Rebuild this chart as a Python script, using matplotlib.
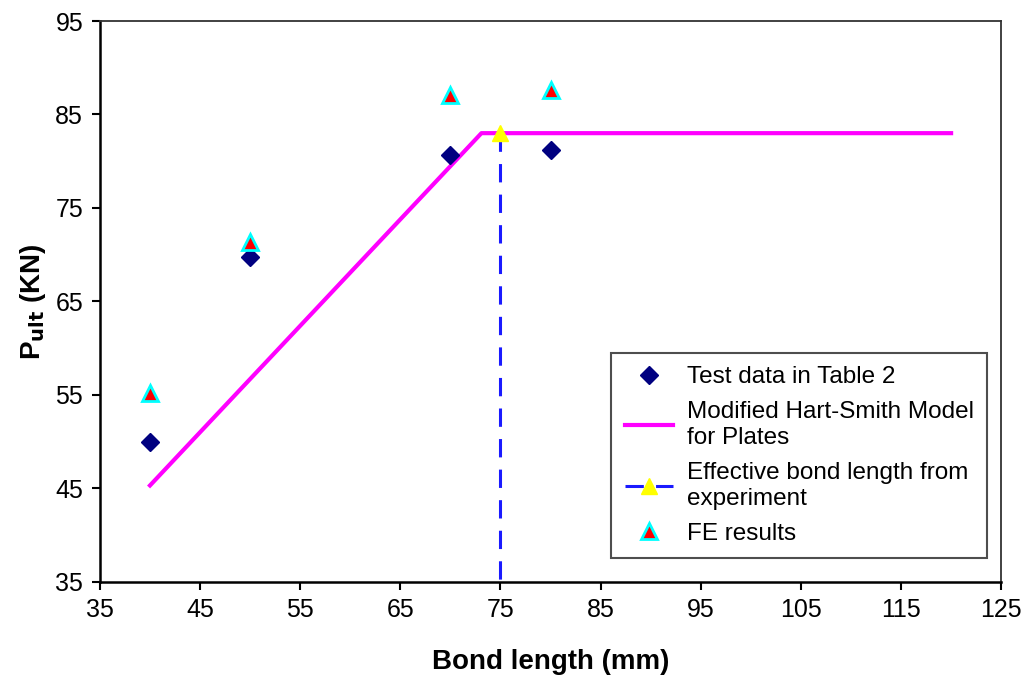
import numpy as np
from matplotlib import pyplot as plt

plt.rcParams['font.family'] = ['Liberation Sans', 'DejaVu Sans']

# test data (Table 2)
test_x = [40, 50, 70, 80]
test_y = [49.9, 69.8, 80.7, 81.2]

# FE results
fe_x = [40, 50, 70, 80]
fe_y = [55.2, 71.3, 87.1, 87.6]

# modified Hart-Smith model
model_x = [40, 73.1, 120]
model_y = [45.3, 83.0, 83.0]

# effective bond length
eff_x = [75, 75]
eff_y = [83.0, 35]

fig = plt.figure(figsize=(10.3, 6.78), dpi=100)
ax = fig.add_axes([0.097, 0.142, 0.875, 0.827])

ax.plot(model_x, model_y, color='#ff00ff', lw=3, label='Modified Hart-Smith Model\nfor Plates', zorder=2)
ax.plot(eff_x, eff_y, color='#1a1aff', lw=2.2, dashes=(6, 4), zorder=2)
ax.plot(eff_x[:1], eff_y[:1], marker='^', ms=11, color='yellow', mec='yellow', ls='none', zorder=4)
eff_handle = plt.Line2D([], [], color='#1a1aff', lw=2.2, dashes=(6, 4), marker='^',
                        ms=11, mfc='yellow', mec='yellow')
ax.plot(test_x, test_y, marker='D', ms=9, color='#000080', ls='none', label='Test data in Table 2', zorder=3)
ax.plot(fe_x, fe_y, marker='^', ms=11, mfc='#ff0000', mec='#00ffff', mew=2, ls='none', label='FE results', zorder=3)

h, l = ax.get_legend_handles_labels()
# order: test, model, eff, fe
handles = [h[1], h[0], eff_handle, h[2]]
labels = [l[1], l[0], 'Effective bond length from\nexperiment', l[2]]
leg = ax.legend(handles, labels, loc='lower right', bbox_to_anchor=(0.998, 0.02), fontsize=17.5,
                frameon=True, fancybox=False, edgecolor='#222222', handlelength=2.0,
                labelspacing=0.55, borderpad=0.55, handletextpad=0.55)
leg.get_frame().set_linewidth(1.5)

ax.set_xlim(35, 125)
ax.set_ylim(35, 95)
ax.set_xticks(np.arange(35, 126, 10))
ax.set_yticks(np.arange(35, 96, 10))
for s in ['top', 'right']:
    ax.spines[s].set_linewidth(1.3)
    ax.spines[s].set_color('#333333')
ax.spines['left'].set_linewidth(1.8)
ax.spines['bottom'].set_linewidth(1.8)
ax.tick_params(direction='out', length=6, width=1.5, labelsize=18, pad=6)

ax.set_xlabel('Bond length (mm)', fontsize=20, fontweight='bold', labelpad=19)
ax.set_ylabel(r'P$_{\mathbf{ult}}$ (KN)', fontsize=20, fontweight='bold', labelpad=5)

fig.savefig('out.png', dpi=100)
